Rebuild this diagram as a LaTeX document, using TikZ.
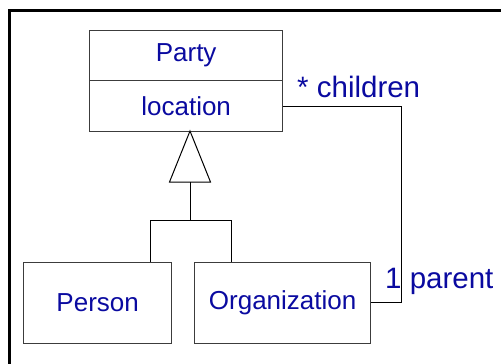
\documentclass[tikz,border=0pt]{standalone}
\usepackage{fontspec}
\setmainfont{Liberation Sans}
\definecolor{umltext}{RGB}{10,10,160}
\definecolor{umlline}{RGB}{60,60,60}
\begin{document}
\begin{tikzpicture}[x=1pt,y=-1pt,
  classbox/.style={draw=umlline,line width=1.3pt,rectangle,inner sep=0pt,
    text=umltext,font=\fontsize{26}{30}\selectfont},
  rolelabel/.style={text=umltext,font=\fontsize{29.5}{34}\selectfont,inner sep=0pt},
  link/.style={draw=black,line width=1pt},
  frameline/.style={draw=black,line width=3pt}]
  \useasboundingbox (0,0) rectangle (501,364);
  % frame edges
  \coordinate (ftop) at (8,10.5);
  \coordinate (fright) at (501,10.5);
  \coordinate (fbottom) at (9.5,364);
  \draw[frameline] (fbottom) -- (9.5,10.5) -- (fright);
  % classes
  \node[classbox,minimum width=193pt,minimum height=50pt,anchor=north west] (partyname) at (89,30) {Party};
  \node[classbox,minimum width=193pt,minimum height=51pt,anchor=north west] (partyattr) at (89,80) {location};
  \node[classbox,minimum width=148pt,minimum height=81pt,anchor=north west] (person) at (23,262) {Person};
  \node[classbox,minimum width=176pt,minimum height=81pt,anchor=north west] (org) at (194,262) {Organization};
  % generalization
  \coordinate (apex) at (190,131);
  \coordinate (tribase) at (190,182);
  \coordinate (junction) at (190,220);
  \coordinate (jleft) at (150,220);
  \coordinate (jright) at (231,220);
  \draw[link,fill=white] (apex) -- (210.5,182) -- (169.5,182) -- cycle;
  \draw[link] (tribase) -- (junction);
  \draw[link] (jleft) -- (jright);
  \draw[link] (jleft) -- (jleft |- person.north);
  \draw[link] (jright) -- (jright |- org.north);
  % recursive association
  \coordinate (bendtop) at (401,106);
  \coordinate (bendbot) at (401,302);
  \draw[link] (partyattr.east |- bendtop) -- (bendtop) -- (bendbot) -- (org.east |- bendbot);
  \node[rolelabel,anchor=base west] (childlbl) at (297,97) {* children};
  \node[rolelabel,anchor=base west] (parentlbl) at (385,288) {1 parent};
\end{tikzpicture}
\end{document}
